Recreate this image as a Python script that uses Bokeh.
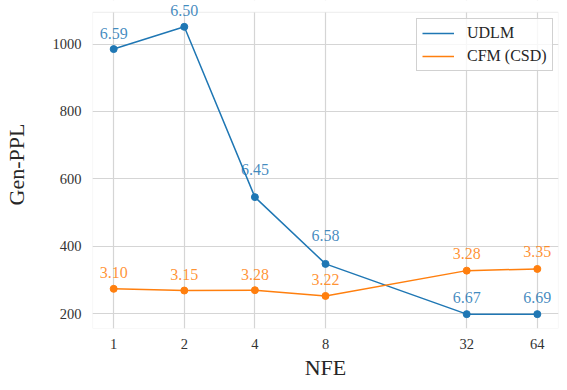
from bokeh.plotting import figure
from bokeh.models import (FixedTicker, Range1d, ColumnDataSource, Legend, LegendItem,
                          LabelSet, BoxAnnotation)
from bokeh.core.properties import value
from bokeh.embed import file_html
from bokeh.resources import INLINE

nfe = [1, 2, 4, 8, 32, 64]
udlm_ppl = [985, 1051, 546, 348, 199, 199]
cfm_ppl = [274, 269, 270, 253, 328, 333]
udlm_ent = ["6.59", "6.50", "6.45", "6.58", "6.67", "6.69"]
cfm_ent = ["3.10", "3.15", "3.28", "3.22", "3.28", "3.35"]
y_ticks = [200, 400, 600, 800, 1000]

# label offsets in screen px (style)
udlm_off = [16, 16, 28, 28, 17, 17]
cfm_off = [16, 16, 16, 16, 17, 17]

BLUE = "#1f77b4"
ORANGE = "#ff7f0e"
FONT = "Liberation Serif"
EDGE = "#cccccc"

# visible data box (axes limits) and room above it for the top labels
X0, X1 = 2 ** -0.3, 2 ** 6.3
Y0, Y1 = 156.4, 1093.6
W, H = 559, 382
LEFT_PX, RIGHT_PX = 91, 1
BOTTOM_PX, TOP_PX = 53, 12
frame_w = W - LEFT_PX - RIGHT_PX
frame_h = H - BOTTOM_PX
y_end = Y1 + TOP_PX * (Y1 - Y0) / (frame_h - TOP_PX)

p = figure(width=W, height=H, x_axis_type="log",
           x_range=Range1d(X0, X1), y_range=Range1d(Y0, y_end),
           output_backend="svg", toolbar_location=None,
           min_border_left=LEFT_PX, min_border_right=RIGHT_PX, min_border_top=0,
           min_border_bottom=BOTTOM_PX)

p.outline_line_color = None
p.background_fill_color = "white"
p.border_fill_color = "white"

p.xaxis.ticker = FixedTicker(ticks=nfe)
p.xaxis.major_label_overrides = {n: str(n) for n in nfe}
p.yaxis.ticker = FixedTicker(ticks=y_ticks)
for ax in (p.xaxis, p.yaxis):
    ax.axis_line_color = None
    ax.major_tick_line_color = None
    ax.minor_tick_line_color = None
    ax.major_tick_out = 0
    ax.major_tick_in = 0
    ax.minor_tick_out = 0
    ax.minor_tick_in = 0
    ax.major_label_text_font = FONT
    ax.major_label_text_font_size = "14.5px"
    ax.major_label_text_color = "#333333"
    ax.axis_label_text_font = FONT
    ax.axis_label_text_font_style = "normal"
    ax.axis_label_text_font_size = "22px"
    ax.axis_label_text_color = "#262626"
p.xaxis.axis_label = "NFE"
p.yaxis.axis_label = "Gen-PPL"
p.xaxis.major_label_standoff = 10
p.xaxis.axis_label_standoff = 3
p.yaxis.major_label_standoff = 11
p.yaxis.axis_label_standoff = 21

p.xgrid.grid_line_color = "#d5d5d5"
p.ygrid.grid_line_color = "#d5d5d5"
p.xgrid.grid_line_width = 1.2
p.ygrid.grid_line_width = 1.2

# white strip above the axes box (hides grid there) and the axes box edge
p.add_layout(BoxAnnotation(bottom=Y1, fill_color="white", fill_alpha=1.0,
                           line_alpha=0, level="underlay"))
p.add_layout(BoxAnnotation(left=X0, right=X1, bottom=Y0, top=Y1, fill_alpha=0,
                           line_color=EDGE, line_width=1.2, level="underlay"))

src_u = ColumnDataSource(dict(x=nfe, y=udlm_ppl, t=udlm_ent, off=udlm_off))
src_c = ColumnDataSource(dict(x=nfe, y=cfm_ppl, t=cfm_ent, off=cfm_off))

lu = p.line("x", "y", source=src_u, line_color=BLUE, line_width=1.5)
p.scatter("x", "y", source=src_u, size=7, fill_color=BLUE, line_color=BLUE)
lc = p.line("x", "y", source=src_c, line_color=ORANGE, line_width=1.5)
p.scatter("x", "y", source=src_c, size=7, fill_color=ORANGE, line_color=ORANGE)

for src, col in ((src_u, BLUE), (src_c, ORANGE)):
    p.add_layout(LabelSet(x="x", y="y", text="t", source=src, y_offset="off",
                          text_align="center", text_baseline="middle",
                          text_font=value(FONT), text_font_size="16px",
                          text_color=col, text_alpha=0.85))

LEG_W, LEG_H = 135, 52
legend = Legend(items=[LegendItem(label="UDLM", renderers=[lu]),
                       LegendItem(label="CFM (CSD)", renderers=[lc])],
                location=(frame_w - 8 - LEG_W, frame_h - TOP_PX - 8 - LEG_H),
                margin=0, padding=5, spacing=5,
                glyph_width=32, glyph_height=18, label_height=18, label_standoff=13,
                label_text_font=FONT, label_text_font_size="16px",
                label_text_color="#262626",
                border_line_color=EDGE, border_line_alpha=0.9,
                background_fill_color="white", background_fill_alpha=0.8)
p.add_layout(legend)

open("out.html", "w").write(file_html(p, INLINE))
